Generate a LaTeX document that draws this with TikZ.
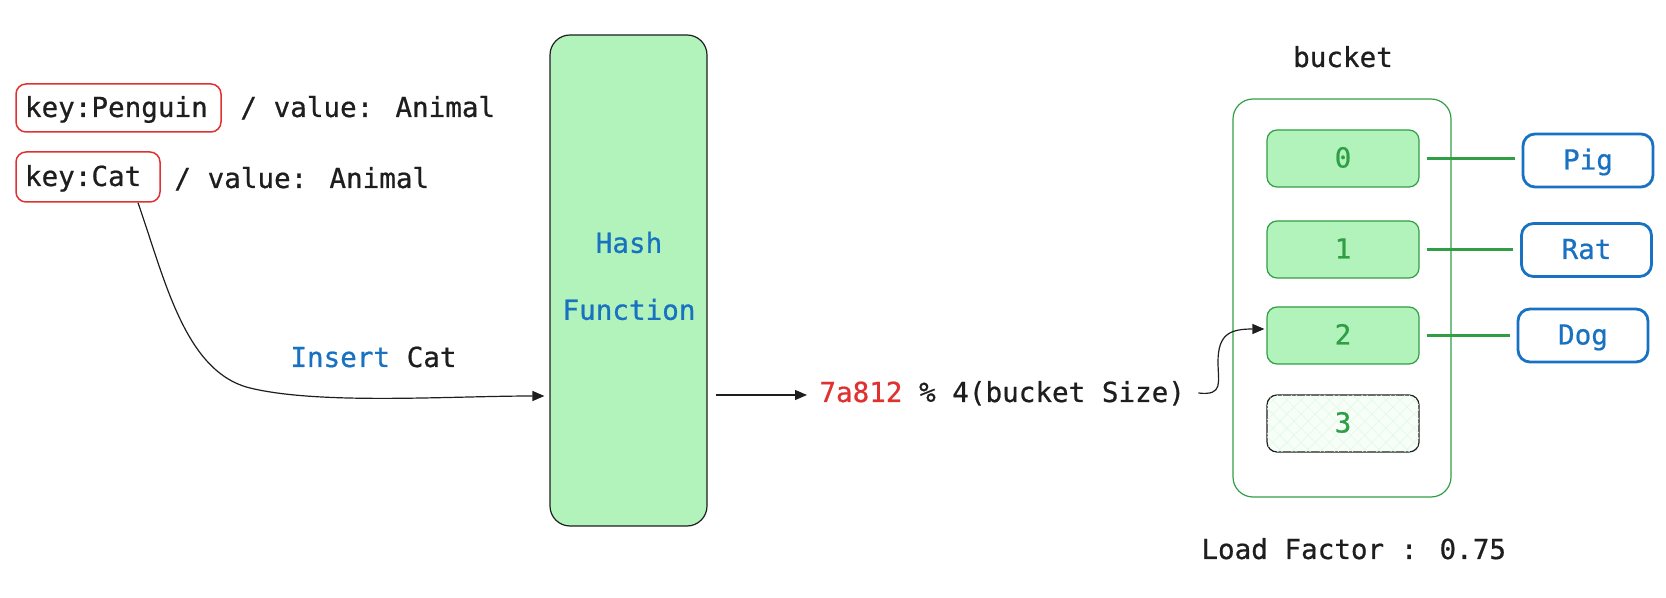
\documentclass[tikz,border=0pt]{standalone}
\usepackage{fontspec}
\newfontfamily\monofnt[FakeBold=0.7]{DejaVu Sans Mono}
\usetikzlibrary{arrows.meta,patterns.meta}
\definecolor{ink}{HTML}{1E1E1E}
\definecolor{kred}{HTML}{E03131}
\definecolor{kblue}{HTML}{1971C2}
\definecolor{kgreen}{HTML}{2F9E44}
\definecolor{gfill}{HTML}{B2F2BB}
\begin{document}
\begin{tikzpicture}[x=0.5pt,y=-0.5pt,
 base/.style={font=\monofnt\fontsize{13.8}{16}\selectfont, text=ink, inner sep=0pt},
 txt/.style={base, text height=10pt, text depth=1pt},
 keybox/.style={txt, draw=kred, line width=0.75pt, rounded corners=5pt, inner xsep=4.5pt},
 hashbox/.style={draw=ink, line width=0.6pt, fill=gfill, rounded corners=10pt, minimum width=78.5pt, minimum height=245.5pt, inner sep=0pt},
 outer/.style={draw=kgreen, line width=0.6pt, rounded corners=10pt, minimum width=109pt, minimum height=199pt, inner sep=0pt},
 slot/.style={txt, text=kgreen, draw=kgreen, fill=gfill, line width=0.6pt, rounded corners=5pt, minimum width=76pt, minimum height=28.5pt},
 emptyslot/.style={slot, draw=ink, fill=gfill!10},
 val/.style={txt, text=kblue, draw=kblue, line width=1.4pt, rounded corners=6pt, minimum width=65pt, minimum height=26.5pt},
 link/.style={draw=kgreen, line width=1.3pt, shorten <=3.5pt, shorten >=3.5pt},
 arr/.style={draw=ink, line width=0.6pt, -{Triangle[length=6pt,width=5pt]}},
]
\useasboundingbox (0,0) rectangle (1666,598);

% keys
\node[keybox, minimum height=24pt] (kpen) at (118.5,108) {\makebox[93.5pt][l]{key:Penguin}};
\node[txt, anchor=west] (vpen) at (240,108) {/ value: Animal};
\node[keybox, minimum height=25pt] (kcat) at (88,177) {\makebox[63pt][l]{key:Cat}};
\node[txt, anchor=west] (vcat) at (174,179) {/ value: Animal};

% hash function
\node[hashbox] (hash) at (628.5,280.5) {};
\node[base, text=kblue, align=center] (hashlbl) at (629,276) {Hash\\[17.5pt]Function};

\node[txt, anchor=west] (ins) at (290,358) {\textcolor{kblue}{Insert} Cat};
\node[txt, anchor=west] (hv) at (819,393) {\textcolor{kred}{7a812} \% 4(bucket Size)};

% bucket
\node[txt] (bucketlbl) at (1343,58) {bucket};
\node[outer] (bucket) at (1342,298) {};
\node[slot] (s0) at (1343,158.5) {0};
\node[slot] (s1) at (1343,249.5) {1};
\node[slot] (s2) at (1343,335.5) {2};
\node[emptyslot, postaction={pattern={Lines[angle=45,distance=5pt,line width=0.3pt]}, pattern color=gfill!40}, postaction={pattern={Lines[angle=-45,distance=5pt,line width=0.3pt]}, pattern color=gfill!40}] (s3) at (1343,423.5) {};
\node[txt, text=kgreen] (s3lbl) at (s3) {3};

\node[val] (pig) at (1588,160.5) {Pig};
\node[val] (rat) at (1586.5,250) {Rat};
\node[val] (dog) at (1583,335.5) {Dog};

\node[txt, anchor=west] (lf) at (1201,550) {Load Factor : 0.75};

% connectors
\draw[arr] ([xshift=25pt]kcat.south) .. controls (165,280) and (185,372) .. (250,388) .. controls (320,405) and (450,396) .. ([shift={(-5,115.5)}]hash.west);
\draw[arr] ([shift={(8,114.5)}]hash.east) -- ([shift={(-12,2)}]hv.west);
\draw[arr] ([shift={(13,0)}]hv.east) .. controls (1224,396) and (1218,382) .. (1218,362) .. controls (1218,334) and (1230,329) .. ([shift={(-2,-6.5)}]s2.west);

\draw[link] (s0.east) -- (s0.east -| pig.west);
\draw[link] (s1.east) -- (s1.east -| rat.west);
\draw[link] (s2.east) -- (s2.east -| dog.west);
\end{tikzpicture}
\end{document}
